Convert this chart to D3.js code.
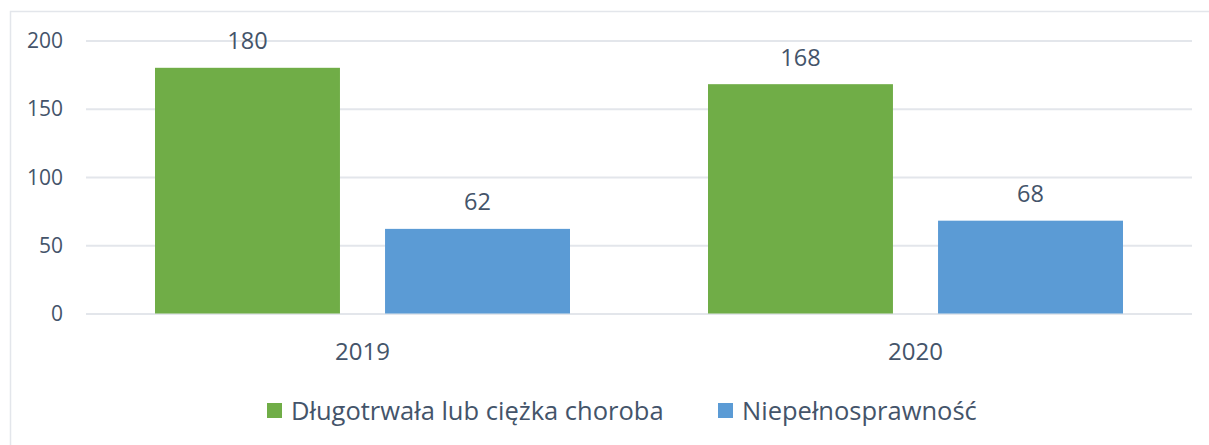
<!DOCTYPE html>
<html><head><meta charset="utf-8">
<script src="https://cdn.jsdelivr.net/npm/d3@7/dist/d3.min.js"></script>
<style>body{margin:0;background:#fff}svg{display:block}text{font-family:"Open Sans",Carlito,Calibri,sans-serif}</style>
</head><body><svg id="c" width="1209" height="445"></svg>
<script>
const categories = ["2019", "2020"];
const seriesNames = ["Długotrwała lub ciężka choroba", "Niepełnosprawność"];
const seriesColors = ["#70AD47", "#5B9BD5"];
const chorobaValues = [180, 168];
const niepelnoValues = [62, 68];
const yTicks = [0, 50, 100, 150, 200];

(function(){
const svg = d3.select("#c");
const textColor = "#44546A";
const pLeft = 86, pRight = 1192, pTop = 40.5, pBottom = 313.5;

svg.append("rect").attr("x",10.5).attr("y",11.5).attr("width",1220).attr("height",450)
  .attr("fill","none").attr("stroke","#E3E6EB").attr("stroke-width",1.5);

const y = d3.scaleLinear().domain([0,200]).range([pBottom, pTop]);
const x0 = d3.scaleBand().domain(categories).range([pLeft, pRight]).padding(0);
const x1 = d3.scaleBand().domain(seriesNames).range([69, 484]).paddingInner(0.196).paddingOuter(0);

const yAxis = d3.axisLeft(y).tickValues(yTicks).tickSize(-(pRight-pLeft)).tickPadding(23);
const gy = svg.append("g").attr("transform",`translate(${pLeft},0)`).call(yAxis);
gy.select(".domain").remove();
gy.selectAll(".tick line").attr("stroke","#E3E6EB").attr("stroke-width",2);
gy.selectAll(".tick text").attr("fill",textColor).style("font-size","21px").attr("dy","0.34em");

const data = categories.map((c,i)=>({cat:c, vals:[chorobaValues[i], niepelnoValues[i]]}));
const groups = svg.append("g").selectAll("g").data(data).join("g")
  .attr("transform", d=>`translate(${x0(d.cat)},0)`);
groups.selectAll("rect").data(d=>d.vals.map((v,j)=>({name:seriesNames[j], v, j})))
  .join("rect")
  .attr("x", d=>x1(d.name)).attr("width", x1.bandwidth())
  .attr("y", d=>y(d.v)).attr("height", d=>y(0)-y(d.v))
  .attr("fill", d=>seriesColors[d.j]);
groups.selectAll("text").data(d=>d.vals.map((v,j)=>({name:seriesNames[j], v, j})))
  .join("text")
  .attr("x", d=>x1(d.name)+x1.bandwidth()/2).attr("y", d=>y(d.v)-18.5)
  .attr("text-anchor","middle").attr("fill",textColor).style("font-size","23.5px")
  .text(d=>d.v);

const xAxis = d3.axisBottom(x0).tickSize(0).tickPadding(0);
const gx = svg.append("g").attr("transform",`translate(0,${pBottom})`).call(xAxis);
gx.select(".domain").remove();
gx.selectAll(".tick text").attr("fill",textColor).style("font-size","24px").attr("y",46).attr("dy",null);

const legendX = [267, 718];
const lg = svg.append("g").selectAll("g").data(seriesNames).join("g")
  .attr("transform",(d,i)=>`translate(${legendX[i]},403)`);
lg.append("rect").attr("width",15).attr("height",15).attr("fill",(d,i)=>seriesColors[i]);
lg.append("text").attr("x",24).attr("y",16.5).attr("fill",textColor).style("font-size","25.5px").text(d=>d);
})();
</script></body></html>
